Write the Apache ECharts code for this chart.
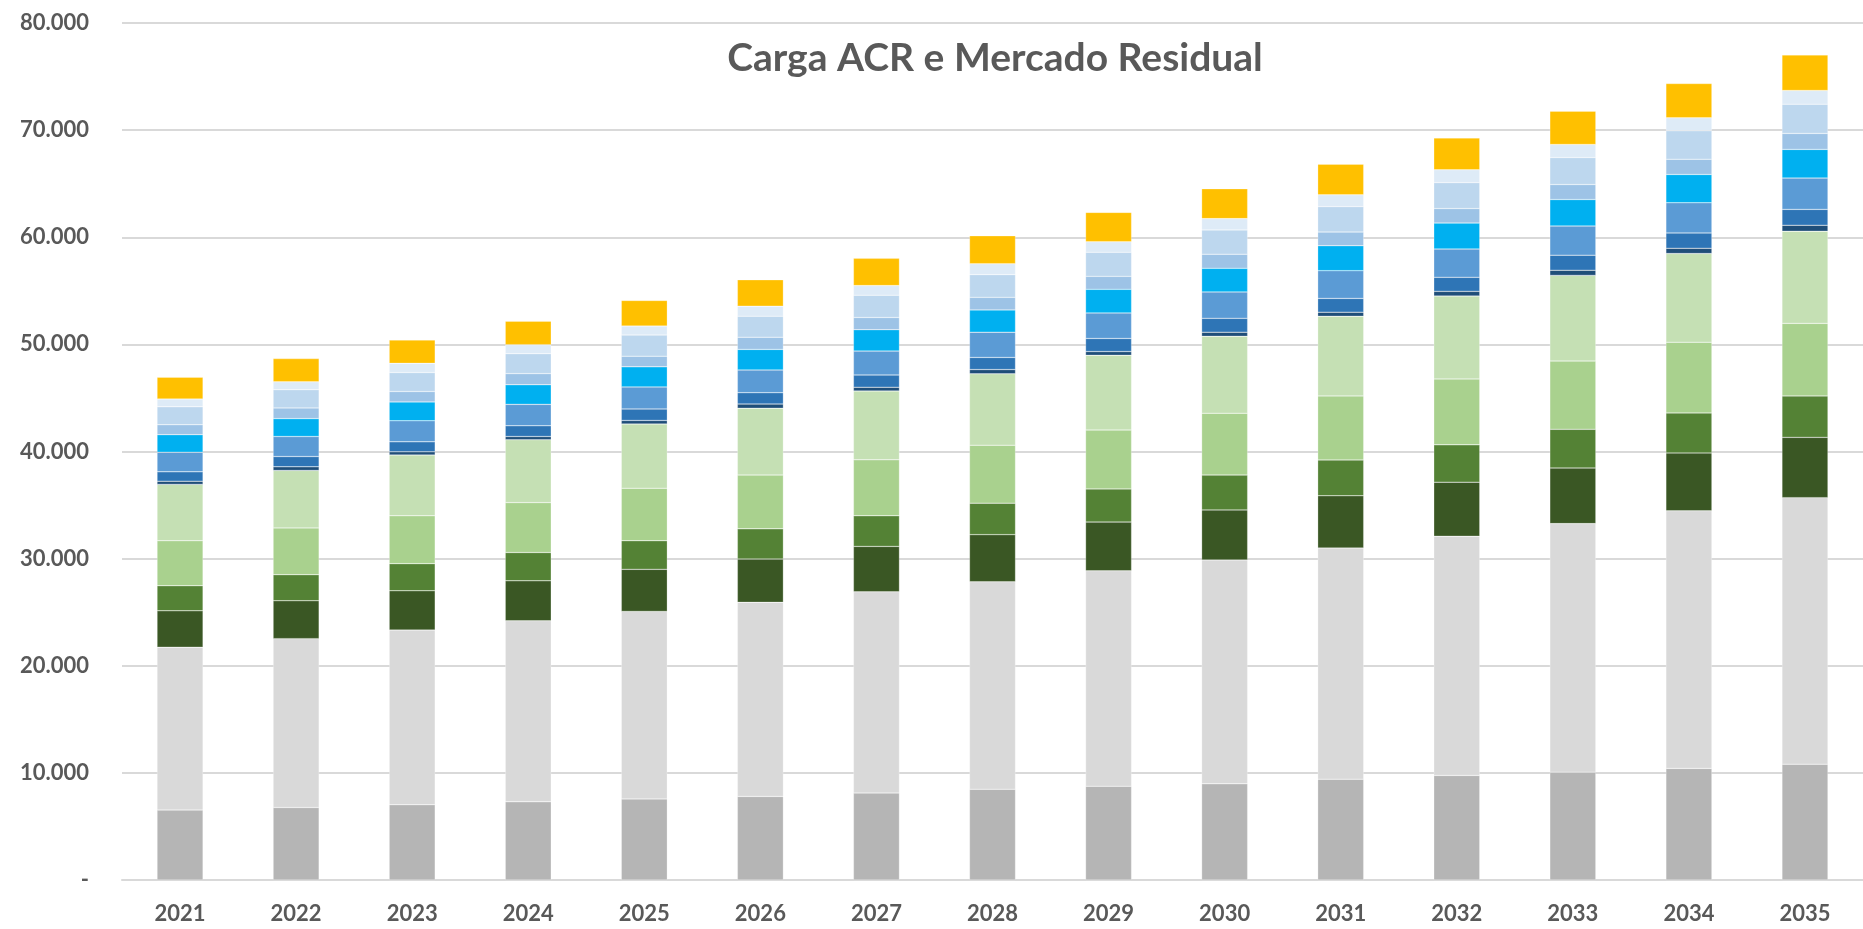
<!DOCTYPE html>
<html>
<head>
<meta charset="utf-8">
<title>Carga ACR e Mercado Residual</title>
<script src="https://cdn.jsdelivr.net/npm/echarts@6/dist/echarts.min.js"></script>
<style>
  html, body { margin: 0; padding: 0; background: #fff; }
  #chart { width: 1863px; height: 929px; }
</style>
</head>
<body>
<div id="chart"></div>
<script>
// anos
var anos = ['2021', '2022', '2023', '2024', '2025', '2026', '2027', '2028', '2029', '2030', '2031', '2032', '2033', '2034', '2035'];

// segmentos, de baixo para cima
var cinzaEscuro   = [6530, 6770, 7030, 7300, 7570, 7800, 8120, 8470, 8750, 8980, 9410, 9760, 10070, 10420, 10810];
var cinzaClaro    = [15200, 15760, 16300, 16900, 17500, 18120, 18780, 19370, 20110, 20900, 21580, 22330, 23200, 24040, 24880];
var verdeEscuro   = [3400, 3540, 3670, 3730, 3930, 4040, 4240, 4400, 4550, 4670, 4880, 5050, 5190, 5410, 5630];
var verde         = [2340, 2430, 2530, 2640, 2670, 2820, 2860, 2940, 3100, 3250, 3340, 3480, 3610, 3730, 3870];
var verdeClaro    = [4200, 4370, 4470, 4660, 4900, 5020, 5220, 5410, 5490, 5770, 5980, 6150, 6370, 6600, 6770];
var verdePalido   = [5260, 5360, 5670, 5870, 6000, 6240, 6430, 6660, 6980, 7180, 7430, 7740, 8000, 8280, 8600];
var azulMarinho   = [300, 340, 300, 300, 330, 390, 350, 400, 350, 390, 390, 440, 480, 490, 560];
var azulEscuro    = [870, 960, 930, 1000, 1070, 1060, 1140, 1130, 1220, 1290, 1280, 1310, 1410, 1430, 1480];
var azulMedio     = [1830, 1870, 1970, 2000, 2060, 2120, 2230, 2360, 2390, 2470, 2590, 2640, 2720, 2820, 2920];
var ciano         = [1640, 1670, 1760, 1830, 1870, 1920, 2000, 2080, 2200, 2200, 2330, 2420, 2470, 2640, 2680];
var azulClaro     = [930, 1000, 970, 1040, 1000, 1140, 1140, 1170, 1210, 1320, 1270, 1360, 1400, 1420, 1490];
var azulPalido    = [1670, 1700, 1770, 1860, 1970, 1960, 2080, 2120, 2240, 2260, 2380, 2420, 2520, 2660, 2730];
var azulGelo      = [730, 730, 860, 840, 840, 940, 900, 1020, 990, 1060, 1100, 1200, 1220, 1210, 1280];
var amarelo       = [2030, 2170, 2170, 2190, 2390, 2460, 2540, 2610, 2740, 2790, 2860, 2970, 3110, 3200, 3320];

// eixo y
var yMax = 80000;
var yPasso = 10000;

var camadas = [
  { nome: 'Série 1',  dados: cinzaEscuro, cor: '#b5b5b5' },
  { nome: 'Série 2',  dados: cinzaClaro,  cor: '#d9d9d9' },
  { nome: 'Série 3',  dados: verdeEscuro, cor: '#3a5724' },
  { nome: 'Série 4',  dados: verde,       cor: '#548235' },
  { nome: 'Série 5',  dados: verdeClaro,  cor: '#a9d18e' },
  { nome: 'Série 6',  dados: verdePalido, cor: '#c5e0b4' },
  { nome: 'Série 7',  dados: azulMarinho, cor: '#1f4e79' },
  { nome: 'Série 8',  dados: azulEscuro,  cor: '#2e75b6' },
  { nome: 'Série 9',  dados: azulMedio,   cor: '#5b9bd5' },
  { nome: 'Série 10', dados: ciano,       cor: '#00b0f0' },
  { nome: 'Série 11', dados: azulClaro,   cor: '#9dc3e6' },
  { nome: 'Série 12', dados: azulPalido,  cor: '#bdd7ee' },
  { nome: 'Série 13', dados: azulGelo,    cor: '#deebf7' },
  { nome: 'Série 14', dados: amarelo,     cor: '#ffc000' }
];

function formatoMilhar(v) {
  if (v === 0) return '-';
  return String(v).replace(/\B(?=(\d{3})+(?!\d))/g, '.');
}

var chart = echarts.init(document.getElementById('chart'));

var option = {
  animation: false,
  backgroundColor: '#ffffff',
  title: {
    text: 'Carga ACR e Mercado Residual',
    left: 990,
    top: 34,
    textAlign: 'center',
    textStyle: {
      fontFamily: 'Lato',
      fontWeight: 'bold',
      fontSize: 39,
      color: '#595959'
    }
  },
  grid: {
    left: 122,
    top: 23,
    width: 1744,
    height: 857
  },
  xAxis: {
    type: 'category',
    data: anos,
    axisLine: { lineStyle: { color: '#d9d9d9', width: 2 } },
    axisTick: { show: false },
    axisLabel: {
      margin: 23,
      fontFamily: 'Lato',
      fontWeight: 'bold',
      fontSize: 22,
      color: '#595959'
    }
  },
  yAxis: {
    type: 'value',
    min: 0,
    max: yMax,
    interval: yPasso,
    axisLine: { show: false },
    axisTick: { show: false },
    splitLine: { lineStyle: { color: '#d9d9d9', width: 2 } },
    axisLabel: {
      margin: 33,
      fontFamily: 'Lato',
      fontWeight: 'bold',
      fontSize: 22,
      color: '#595959',
      formatter: formatoMilhar
    }
  },
  series: camadas.map(function (c) {
    return {
      name: c.nome,
      type: 'bar',
      stack: 'total',
      barWidth: 46,
      data: c.dados,
      itemStyle: {
        color: c.cor,
        borderColor: 'rgba(255,255,255,0.5)',
        borderWidth: 0.5
      }
    };
  })
};

chart.setOption(option);
</script>
</body>
</html>
